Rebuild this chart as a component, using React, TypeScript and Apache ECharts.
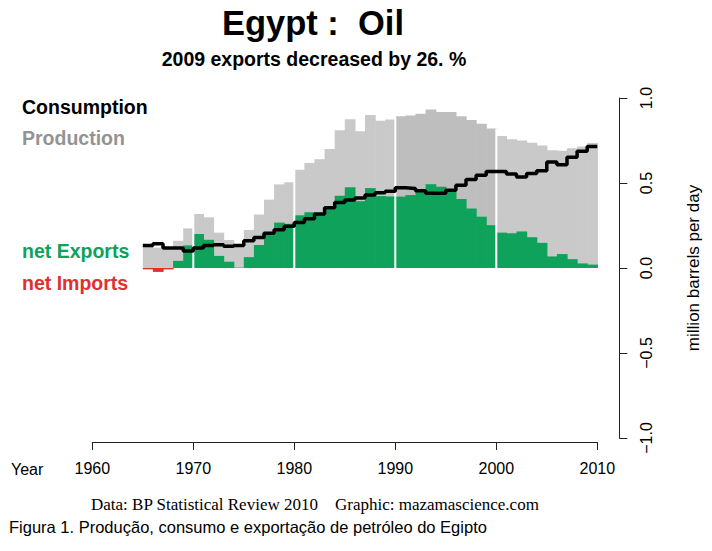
import React, { useEffect, useRef } from "react";
import * as echarts from "echarts";

// ---- data (million barrels per day) ----
const years: number[] = [
  1965, 1966, 1967, 1968, 1969, 1970, 1971, 1972, 1973, 1974,
  1975, 1976, 1977, 1978, 1979, 1980, 1981, 1982, 1983, 1984,
  1985, 1986, 1987, 1988, 1989, 1990, 1991, 1992, 1993, 1994,
  1995, 1996, 1997, 1998, 1999, 2000, 2001, 2002, 2003, 2004,
  2005, 2006, 2007, 2008, 2009,
];
const production: number[] = [
  0.125, 0.12, 0.11, 0.16, 0.233, 0.318, 0.298, 0.208, 0.165, 0.135,
  0.224, 0.315, 0.402, 0.492, 0.505, 0.578, 0.618, 0.64, 0.7, 0.81,
  0.875, 0.805, 0.9, 0.866, 0.873, 0.892, 0.897, 0.908, 0.933, 0.918,
  0.917, 0.893, 0.87, 0.848, 0.82, 0.776, 0.757, 0.75, 0.737, 0.72,
  0.692, 0.69, 0.704, 0.714, 0.735,
];
const consumption: number[] = [
  0.133, 0.143, 0.118, 0.118, 0.1, 0.118, 0.132, 0.137, 0.128, 0.133,
  0.16, 0.18, 0.205, 0.225, 0.245, 0.268, 0.29, 0.318, 0.354, 0.385,
  0.4, 0.412, 0.43, 0.443, 0.452, 0.472, 0.468, 0.455, 0.44, 0.44,
  0.458, 0.487, 0.52, 0.546, 0.568, 0.568, 0.553, 0.535, 0.556, 0.572,
  0.624, 0.608, 0.652, 0.687, 0.715,
];
const decadeYears: number[] = [1970, 1980, 1990, 2000];
const xTickLabels: string[] = ["1960", "1970", "1980", "1990", "2000", "2010"];
const yTickLabels: string[] = ["\u22121.0", "\u22120.5", "0.0", "0.5", "1.0"];

const SANS = "'Liberation Sans', Arial, Helvetica, sans-serif";
const SERIF = "'Liberation Serif', 'Times New Roman', serif";
const GREEN = "#0ea25a";
const RED = "#e03030";

export default function App() {
  const ref = useRef<HTMLDivElement>(null);

  useEffect(() => {
    document.body.style.margin = "0";
    if (!ref.current) return;
    const chart = echarts.init(ref.current, undefined, { renderer: "svg" });

    const prodData = years.map((y, i) => [y, production[i]]);
    const net = years.map((y, i) => production[i] - consumption[i]);
    const exportData = years.map((y, i) => [y, Math.max(net[i], 0)]);
    const importData = years.map((y, i) => [y, Math.min(net[i], 0)]);
    const consData = years.map((y, i) => [y, consumption[i]]);
    consData.push([years[years.length - 1] + 1, consumption[consumption.length - 1]]);
    const decadeData = decadeYears.map((d) => {
      const i = years.indexOf(d);
      return [d, Math.max(production[i], production[i - 1])];
    });

    const rectRenderer = (colorFor: (x: number) => string) => (params: any, api: any) => {
      const x = api.value(0);
      const v = api.value(1);
      if (v === 0) return null;
      const p0 = api.coord([x, 0]);
      const p1 = api.coord([x + 1, v]);
      return {
        type: "rect",
        shape: {
          x: p0[0],
          y: Math.min(p0[1], p1[1]),
          width: p1[0] - p0[0] + 0.6,
          height: Math.abs(p1[1] - p0[1]),
        },
        style: { fill: colorFor(x) },
      };
    };

    const yLabel = (v: number) => {
      const idx = Math.round((v + 1) / 0.5);
      return yTickLabels[idx] ?? "";
    };
    const xLabel = (v: number) => {
      const idx = Math.round((v - 1960) / 10);
      return xTickLabels[idx] ?? "";
    };

    chart.setOption({
      animation: false,
      grid: { left: 92.3, right: 114.7, top: 98, bottom: 113, containLabel: false },
      xAxis: {
        type: "value",
        min: 1960,
        max: 2010,
        interval: 10,
        position: "bottom",
        offset: 4,
        axisLine: { show: true, onZero: false, lineStyle: { color: "#222", width: 1 } },
        axisTick: { show: true, length: 8, lineStyle: { color: "#222", width: 1 } },
        axisLabel: { fontSize: 16, color: "#000", margin: 18, fontFamily: SANS, formatter: xLabel },
        splitLine: { show: false },
      },
      yAxis: {
        type: "value",
        min: -1,
        max: 1,
        interval: 0.5,
        position: "right",
        offset: 22,
        name: "million barrels per day",
        nameLocation: "middle",
        nameRotate: 90,
        nameGap: 66,
        nameTextStyle: { fontSize: 17, color: "#000", fontFamily: SANS },
        axisLine: { show: true, onZero: false, lineStyle: { color: "#222", width: 1 } },
        axisTick: { show: true, length: 8, lineStyle: { color: "#222", width: 1 } },
        axisLabel: { fontSize: 16, color: "#000", rotate: 90, margin: 19, fontFamily: SANS, formatter: yLabel },
        splitLine: { show: false },
      },
      series: [
        {
          name: "Production",
          type: "custom",
          renderItem: rectRenderer((x) => (x >= 1990 && x < 2000 ? "#bebebe" : "#c9c9c9")),
          encode: { x: 0, y: 1 },
          data: prodData,
          z: 1,
        },
        {
          name: "net Exports",
          type: "custom",
          renderItem: rectRenderer(() => GREEN),
          encode: { x: 0, y: 1 },
          data: exportData,
          z: 2,
        },
        {
          name: "net Imports",
          type: "custom",
          renderItem: rectRenderer(() => RED),
          encode: { x: 0, y: 1 },
          data: importData,
          z: 2,
        },
        {
          name: "decades",
          type: "custom",
          renderItem: (params: any, api: any) => {
            const x = api.value(0);
            const h = api.value(1);
            const p0 = api.coord([x, 0]);
            const p1 = api.coord([x, h]);
            return {
              type: "line",
              shape: { x1: p0[0], y1: p0[1], x2: p1[0], y2: p1[1] },
              style: { stroke: "#ffffff", lineWidth: 2 },
            };
          },
          encode: { x: 0, y: 1 },
          data: decadeData,
          z: 3,
        },
        {
          name: "Consumption",
          type: "line",
          step: "end",
          data: consData,
          symbol: "none",
          lineStyle: { color: "#000", width: 3.5 },
          z: 5,
        },
      ],
      graphic: [
        {
          type: "text",
          x: 313,
          y: 23,
          style: { text: "Egypt :  Oil", fontSize: 34.5, fontWeight: "bold", fontFamily: SANS, fill: "#000", textAlign: "center", textVerticalAlign: "middle" },
        },
        {
          type: "text",
          x: 314,
          y: 59,
          style: { text: "2009 exports decreased by 26. %", fontSize: 19.5, fontWeight: "bold", fontFamily: SANS, fill: "#000", textAlign: "center", textVerticalAlign: "middle" },
        },
        {
          type: "text",
          x: 22,
          y: 107,
          style: { text: "Consumption", fontSize: 19.5, fontWeight: "bold", fontFamily: SANS, fill: "#000", textVerticalAlign: "middle" },
        },
        {
          type: "text",
          x: 22,
          y: 138,
          style: { text: "Production", fontSize: 19.5, fontWeight: "bold", fontFamily: SANS, fill: "#939393", textVerticalAlign: "middle" },
        },
        {
          type: "text",
          x: 22,
          y: 251,
          style: { text: "net Exports", fontSize: 19.5, fontWeight: "bold", fontFamily: SANS, fill: GREEN, textVerticalAlign: "middle" },
        },
        {
          type: "text",
          x: 22,
          y: 283,
          style: { text: "net Imports", fontSize: 19.5, fontWeight: "bold", fontFamily: SANS, fill: RED, textVerticalAlign: "middle" },
        },
        {
          type: "text",
          x: 11,
          y: 469,
          style: { text: "Year", fontSize: 16, fontFamily: SANS, fill: "#000", textVerticalAlign: "middle" },
        },
        {
          type: "text",
          x: 91,
          y: 504,
          style: { text: "Data: BP Statistical Review 2010", fontSize: 17, fontFamily: SERIF, fill: "#000", textVerticalAlign: "middle" },
        },
        {
          type: "text",
          x: 335,
          y: 504,
          style: { text: "Graphic: mazamascience.com", fontSize: 17, fontFamily: SERIF, fill: "#000", textVerticalAlign: "middle" },
        },
        {
          type: "text",
          x: 9,
          y: 527,
          style: { text: "Figura 1. Produção, consumo e exportação de petróleo do Egipto", fontSize: 16.5, fontFamily: SANS, fill: "#000", textVerticalAlign: "middle" },
        },
      ],
    });

    return () => chart.dispose();
  }, []);

  return <div ref={ref} style={{ width: 712, height: 551 }} />;
}
